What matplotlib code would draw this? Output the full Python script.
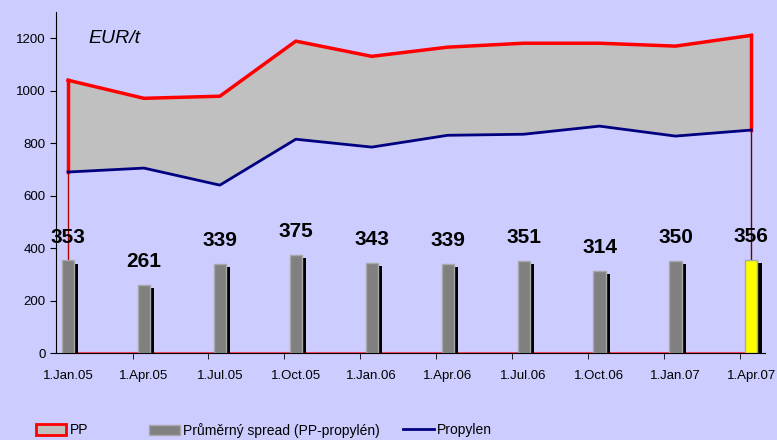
import matplotlib.pyplot as plt
import numpy as np
from matplotlib.patches import Patch
from matplotlib.lines import Line2D

# data (EUR/t)
dates = ['1.Jan.05', '1.Apr.05', '1.Jul.05', '1.Oct.05', '1.Jan.06',
         '1.Apr.06', '1.Jul.06', '1.Oct.06', '1.Jan.07', '1.Apr.07']
pp = [1040, 971, 979, 1189, 1131, 1166, 1181, 1181, 1170, 1211]
propylen = [690, 705, 640, 815, 785, 830, 834, 865, 827, 850]
spread = [353, 261, 339, 375, 343, 339, 351, 314, 350, 356]

bg = '#CCCCFF'
plt.rcParams['font.family'] = ['Liberation Sans', 'DejaVu Sans']

fig = plt.figure(figsize=(7.77, 4.40), dpi=100, facecolor=bg)
ax = fig.add_axes([0.0721, 0.1977, 0.9125, 0.775], facecolor=bg)

x = np.arange(len(dates))

# PP area (grey between the two lines), red outline down to zero
ax.fill_between(x, propylen, pp, color='#C0C0C0', zorder=1, linewidth=0)
ax.plot(x, pp, color='red', lw=2.5, zorder=3)
ax.plot([x[0], x[0]], [propylen[0], pp[0]], color='red', lw=2.5, zorder=3)
ax.plot([x[-1], x[-1]], [propylen[-1], pp[-1]], color='red', lw=2.5, zorder=3)
ax.plot([x[0], x[0]], [0, propylen[0]], color='#B00000', lw=1, zorder=2)
ax.plot([x[-1], x[-1]], [0, propylen[-1]], color='#700000', lw=1, zorder=2)
ax.plot([x[0], x[-1]], [0, 0], color='#FF4060', lw=1.5, zorder=2, clip_on=False)

# Propylen line
ax.plot(x, propylen, color='#000080', lw=2, zorder=3)

# spread bars with shadow
w = 0.16
sh = 0.055
ax.bar(x + sh, [v - 12 for v in spread], width=w, color='black', zorder=4)
colors = ['#808080'] * (len(x) - 1) + ['#FFFF00']
ax.bar(x, spread, width=w, color=colors, edgecolor='#A8A8A8', linewidth=1, zorder=5)

for xi, v in zip(x, spread):
    ax.annotate(str(v), (xi, v), xytext=(0, 10), textcoords='offset points',
                ha='center', va='bottom', fontsize=15, fontweight='bold', zorder=6)

ax.text(0.27, 1200, 'EUR/t', fontsize=14, style='italic', va='center')

ax.set_xlim(-0.158, 9.18)
ax.set_ylim(0, 1300)
ax.set_yticks(range(0, 1201, 200))
ax.set_xticks(x)
ax.set_xticklabels(dates)
ax.set_xticks(x[1:] - 0.15, minor=True)
ax.tick_params(axis='x', which='major', length=0, labelsize=9.5, pad=12)
ax.tick_params(axis='x', which='minor', length=4, direction='out')
ax.tick_params(axis='y', length=4, direction='out', labelsize=9.5)

for s in ['top', 'right']:
    ax.spines[s].set_visible(False)
ax.spines['left'].set_zorder(7)
ax.spines['bottom'].set_zorder(7)

# legend: one entry per position, as in the original
entries = [
    (Patch(facecolor='#C0C0C0', edgecolor='red', linewidth=2), 'PP', 0.046),
    (Patch(facecolor='#808080', edgecolor='#A8A8A8'), 'Průměrný spread (PP-propylén)', 0.192),
    (Line2D([], [], color='#000080', lw=2), 'Propylen', 0.519),
]
for h, lab, xpos in entries:
    fig.legend([h], [lab], loc='center left', bbox_to_anchor=(xpos, 0.022),
               frameon=False, fontsize=10,
               handlelength=2.2, handletextpad=0.25, handleheight=0.75,
               borderpad=0, borderaxespad=0)

fig.savefig('out.png', dpi=100, facecolor=bg)
